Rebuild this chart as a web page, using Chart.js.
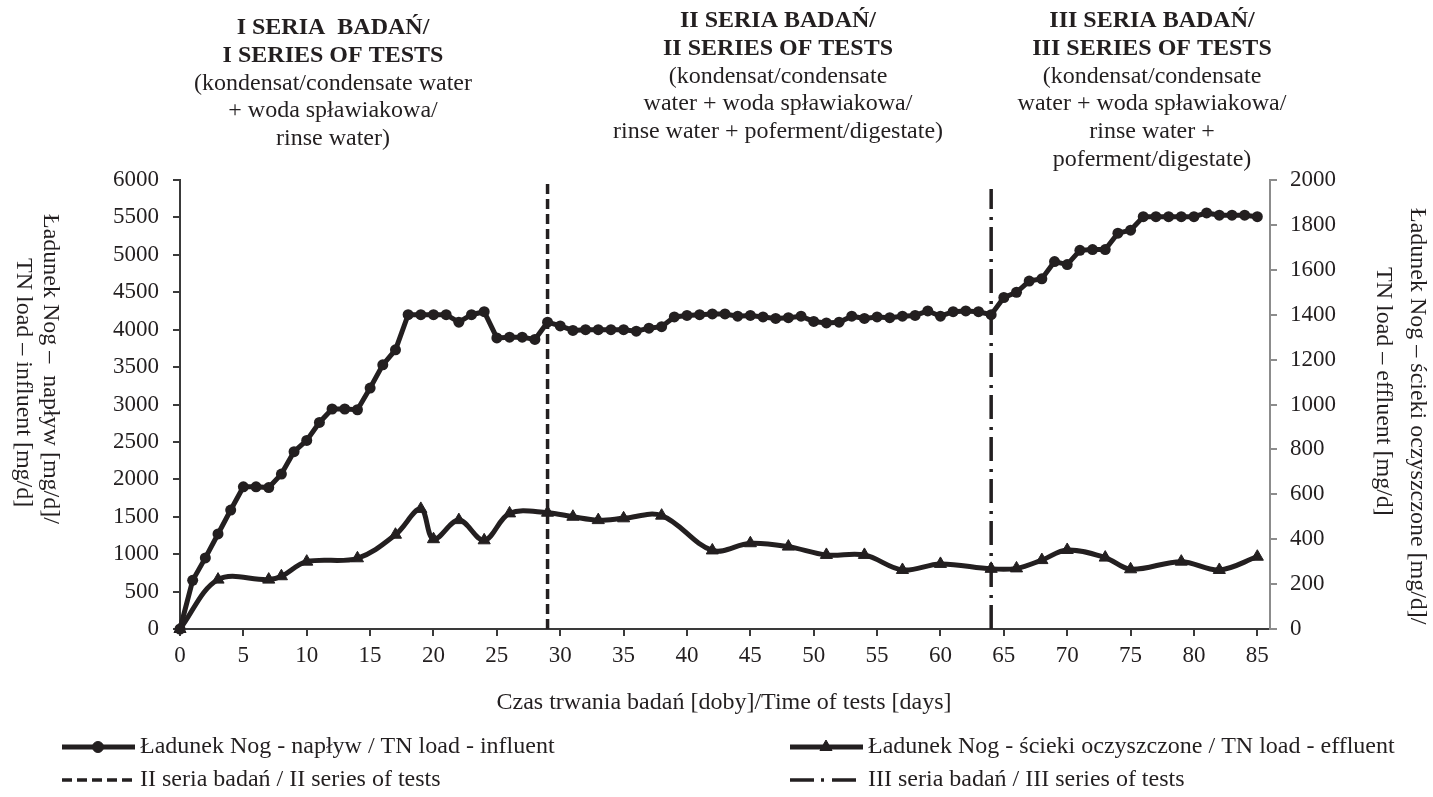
<!DOCTYPE html>
<html>
<head>
<meta charset="utf-8">
<script src="https://cdn.jsdelivr.net/npm/chart.js@4/dist/chart.umd.min.js"></script>
<style>
  html, body { margin: 0; padding: 0; background: #fff; }
  #wrap { width: 1433px; height: 797px; }
</style>
</head>
<body>
<div id="wrap"><canvas id="chart" width="1433" height="797"></canvas></div>
<script>
// days of the test and TN load values
const influentDays = [0, 1, 2, 3, 4, 5, 6, 7, 8, 9, 10, 11, 12, 13, 14, 15, 16, 17, 18, 19, 20,
  21, 22, 23, 24, 25, 26, 27, 28, 29, 30, 31, 32, 33, 34, 35, 36, 37, 38, 39, 40,
  41, 42, 43, 44, 45, 46, 47, 48, 49, 50, 51, 52, 53, 54, 55, 56, 57, 58, 59, 60,
  61, 62, 63, 64, 65, 66, 67, 68, 69, 70, 71, 72, 73, 74, 75, 76, 77, 78, 79, 80,
  81, 82, 83, 84, 85];
const influentLoad = [0, 650, 950, 1270, 1590, 1900, 1900, 1890, 2070, 2370, 2520,
  2760, 2940, 2940, 2930, 3220, 3530, 3730, 4200, 4200, 4200,
  4200, 4100, 4200, 4240, 3890, 3900, 3900, 3870, 4100, 4050,
  3990, 4000, 4000, 4000, 4000, 3980, 4020, 4040, 4170, 4190,
  4200, 4210, 4210, 4180, 4190, 4170, 4150, 4160, 4180, 4110,
  4090, 4100, 4180, 4150, 4170, 4160, 4180, 4190, 4250, 4180,
  4240, 4250, 4240, 4200, 4430, 4500, 4650, 4680, 4910, 4870,
  5060, 5070, 5070, 5290, 5330, 5510, 5510, 5510, 5510, 5510,
  5560, 5530, 5530, 5530, 5510];

const effluentDays = [0, 3, 7, 8, 10, 14, 17, 19, 20, 22, 24, 26, 29, 31, 33, 35, 38,
  42, 45, 48, 51, 54, 57, 60, 64, 66, 68, 70, 73, 75, 79, 82, 85];
const effluentLoad = [0, 220, 220, 235, 300, 315, 420, 535, 400, 485, 395, 515, 518, 500, 485, 493, 505,
  350, 382, 367, 330, 330, 263, 290, 268, 270, 307, 352, 318, 266, 300, 263, 322];

// start of the II and III series (vertical lines)
const seriesStart = [29, 64];
const seriesLineTop = [6000, 5880];

const seriesNotes = [
  ['I SERIA  BADAŃ/', 'I SERIES OF TESTS', '(kondensat/condensate water', '+ woda spławiakowa/', 'rinse water)'],
  ['II SERIA BADAŃ/', 'II SERIES OF TESTS', '(kondensat/condensate', 'water + woda spławiakowa/', 'rinse water + poferment/digestate)'],
  ['III SERIA BADAŃ/', 'III SERIES OF TESTS', '(kondensat/condensate', 'water + woda spławiakowa/', 'rinse water +', 'poferment/digestate)']
];
const leftTitle = ['Ładunek Nog –  napływ [mg/d]/', 'TN load – influent [mg/d]'];
const rightTitle = ['Ładunek Nog – ścieki oczyszczone [mg/d]/', 'TN load – effluent [mg/d]'];
const xTitle = 'Czas trwania badań [doby]/Time of tests [days]';

const INK = '#231f20';
const FONT = '"Liberation Serif", "Times New Roman", serif';
Chart.defaults.font.family = FONT;
Chart.defaults.color = INK;

const toXY = (xs, ys) => xs.map((x, i) => ({ x: x, y: ys[i] }));
const plain = v => String(v);

// titles, notes and the two-column legend
const decor = {
  id: 'decor',
  afterDraw(chart) {
    const ctx = chart.ctx;
    ctx.save();
    ctx.fillStyle = INK;
    ctx.textBaseline = 'middle';

    // notes above the plot
    const noteX = [333, 778, 1152];
    const noteY = [28, 21, 21];
    ctx.textAlign = 'center';
    seriesNotes.forEach((lines, n) => {
      lines.forEach((t, i) => {
        ctx.font = (i < 2 ? 'bold ' : '') + '24px ' + FONT;
        ctx.fillText(t, noteX[n], noteY[n] + i * 27.7);
      });
    });

    // axis titles, written top to bottom
    ctx.font = '24px ' + FONT;
    ctx.textAlign = 'left';
    const vText = (t, x, y) => {
      ctx.save();
      ctx.translate(x, y);
      ctx.rotate(Math.PI / 2);
      ctx.fillText(t, 0, 0);
      ctx.restore();
    };
    vText(leftTitle[0], 50, 214);
    vText(leftTitle[1], 23, 258);
    vText(rightTitle[0], 1417, 208);
    vText(rightTitle[1], 1383, 267);

    ctx.textAlign = 'center';
    ctx.fillText(xTitle, 724, 703);

    // legend
    const items = [
      { ds: 0, x: 62, y: 747 },
      { ds: 1, x: 790, y: 747 },
      { ds: 2, x: 62, y: 780 },
      { ds: 3, x: 790, y: 780 }
    ];
    items.forEach(it => {
      const ds = chart.data.datasets[it.ds];
      ctx.save();
      ctx.strokeStyle = ds.borderColor;
      ctx.lineWidth = ds.borderWidth;
      ctx.setLineDash(ds.borderDash || []);
      ctx.beginPath();
      ctx.moveTo(it.x, it.y);
      ctx.lineTo(it.x + 73, it.y);
      ctx.stroke();
      ctx.restore();
      if (ds.pointRadius > 0) {
        ctx.fillStyle = INK;
        Chart.helpers.drawPoint(ctx, {
          pointStyle: ds.pointStyle, radius: ds.pointRadius, borderWidth: 1, rotation: 0
        }, it.x + 36, it.y);
      }
      ctx.fillStyle = INK;
      ctx.textAlign = 'left';
      ctx.fillText(ds.label, it.x + 78, it.y);
    });
    ctx.restore();
  }
};

new Chart(document.getElementById('chart'), {
  type: 'line',
  data: {
    datasets: [
      {
        label: 'Ładunek Nog - napływ / TN load - influent',
        data: toXY(influentDays, influentLoad),
        yAxisID: 'y',
        borderColor: INK,
        backgroundColor: INK,
        borderWidth: 5,
        pointStyle: 'circle',
        pointRadius: 5.5,
        pointBorderWidth: 0,
        tension: 0,
        clip: false
      },
      {
        label: 'Ładunek Nog - ścieki oczyszczone / TN load - effluent',
        data: toXY(effluentDays, effluentLoad),
        yAxisID: 'y1',
        borderColor: INK,
        backgroundColor: INK,
        borderWidth: 5,
        pointStyle: 'triangle',
        pointRadius: 7,
        pointBorderWidth: 1,
        tension: 0.35,
        clip: false
      },
      {
        label: 'II seria badań / II series of tests',
        data: [{ x: seriesStart[0], y: 0 }, { x: seriesStart[0], y: seriesLineTop[0] }],
        yAxisID: 'y',
        borderColor: INK,
        borderWidth: 3.5,
        borderDash: [10, 5],
        pointRadius: 0
      },
      {
        label: 'III seria badań / III series of tests',
        data: [{ x: seriesStart[1], y: 0 }, { x: seriesStart[1], y: seriesLineTop[1] }],
        yAxisID: 'y',
        borderColor: INK,
        borderWidth: 3.5,
        borderDash: [24, 7, 3, 8],
        pointRadius: 0
      }
    ]
  },
  options: {
    responsive: false,
    animation: false,
    layout: { padding: { top: 180, left: 0, right: 0, bottom: 0 } },
    scales: {
      x: {
        type: 'linear',
        min: 0,
        max: 86,
        afterFit: s => { s.height = 168; },
        ticks: { stepSize: 5, includeBounds: false, font: { size: 23 }, padding: 6, maxRotation: 0, callback: plain },
        grid: { drawOnChartArea: false, tickLength: 7, color: '#3a3a3a', lineWidth: 2 },
        border: { color: '#3a3a3a', width: 2 }
      },
      y: {
        position: 'left',
        min: 0,
        max: 6000,
        afterFit: s => { s.width = 180; },
        ticks: { stepSize: 500, font: { size: 23 }, padding: 14, callback: plain },
        grid: { drawOnChartArea: false, tickLength: 7, color: '#3a3a3a', lineWidth: 2 },
        border: { color: '#3a3a3a', width: 2 }
      },
      y1: {
        position: 'right',
        min: 0,
        max: 2000,
        afterFit: s => { s.width = 163; },
        ticks: { stepSize: 200, font: { size: 23 }, padding: 13, callback: plain },
        grid: { drawOnChartArea: false, tickLength: 7, color: '#8c8c8c', lineWidth: 2 },
        border: { color: '#8c8c8c', width: 2 }
      }
    },
    plugins: {
      legend: { display: false },
      tooltip: { enabled: false }
    }
  },
  plugins: [decor]
});
</script>
</body>
</html>
